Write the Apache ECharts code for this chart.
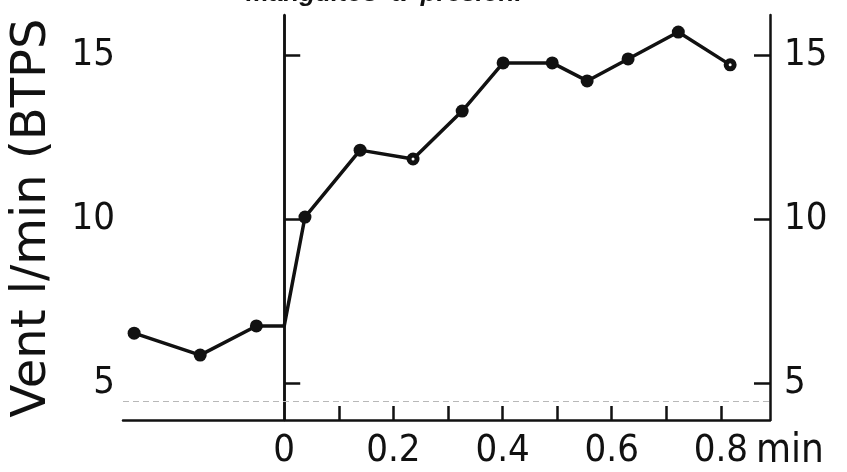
<!DOCTYPE html>
<html>
<head>
<meta charset="utf-8">
<script src="https://cdn.jsdelivr.net/npm/echarts@6/dist/echarts.min.js"></script>
<style>
  html, body { margin: 0; padding: 0; background: #ffffff; }
  #chart { width: 847px; height: 472px; }
</style>
</head>
<body>
<div id="chart"></div>
<script>
// Ventilation (l/min BTPS) against time (min); cuff inflation at t = 0
const timeMin = [-0.275, -0.154, -0.051, 0.0, 0.038, 0.139, 0.236, 0.326, 0.401, 0.491, 0.555, 0.630, 0.722, 0.817];
const ventLmin = [6.52, 5.85, 6.74, 6.74, 10.06, 12.10, 11.83, 13.29, 14.76, 14.76, 14.21, 14.88, 15.70, 14.70];
// index of the unmarked corner where the trace meets the t = 0 line
const cornerIndex = 3;
// samples drawn with an open centre
const openIndices = [6, 13];

const yTicks = [5, 10, 15];
const xTickValues = [0.1, 0.2, 0.3, 0.4, 0.5, 0.6, 0.7, 0.8];
const xLabelValues = [0, 0.2, 0.4, 0.6, 0.8];

const caption = 'manguitos  a  presión.';
const yTitle = 'Vent l/min (BTPS';
const xUnit = 'min';

const INK = '#111111';
const NUM_FONT = '"DejaVu Sans Condensed", sans-serif';

const points = timeMin.map((t, i) => {
  const item = { value: [t, ventLmin[i]] };
  if (i === cornerIndex) item.symbol = 'none';
  if (openIndices.includes(i)) {
    item.symbolSize = 8;
    item.itemStyle = { color: '#ffffff', borderColor: INK, borderWidth: 5 };
  }
  return item;
});

const chart = echarts.init(document.getElementById('chart'), null, { renderer: 'canvas' });

const yAxisBase = {
  type: 'value',
  min: 3.872,
  max: 16.22,
  splitLine: { show: false },
  axisLine: { show: true, lineStyle: { color: INK, width: 2.5 } },
  axisTick: { show: true, inside: true, length: 16, customValues: yTicks, lineStyle: { color: INK, width: 2.5 } },
  axisLabel: { customValues: yTicks, color: INK, fontFamily: NUM_FONT, fontSize: 38 }
};

chart.setOption({
  animation: false,
  backgroundColor: '#ffffff',
  grid: { left: 123, right: 77, top: 15, bottom: 52, containLabel: false },
  xAxis: {
    type: 'value',
    min: -0.2954,
    max: 0.890,
    splitLine: { show: false },
    axisLine: { show: true, onZero: false, lineStyle: { color: INK, width: 2.5 } },
    axisTick: { show: true, inside: true, length: 14, customValues: xTickValues, lineStyle: { color: INK, width: 2.5 } },
    axisLabel: {
      customValues: xLabelValues,
      color: INK, fontFamily: NUM_FONT, fontSize: 38, margin: 12,
      formatter: v => (v === 0 ? '0' : v.toFixed(1))
    }
  },
  yAxis: [
    Object.assign({}, yAxisBase, { position: 'left', axisLabel: Object.assign({}, yAxisBase.axisLabel, { margin: 8 }) }),
    Object.assign({}, yAxisBase, { position: 'right', axisLabel: Object.assign({}, yAxisBase.axisLabel, { margin: 14 }) })
  ],
  series: [{
    type: 'line',
    data: points,
    symbol: 'circle',
    symbolSize: 13,
    showSymbol: true,
    lineStyle: { color: INK, width: 3.5 },
    itemStyle: { color: INK },
    markLine: {
      silent: true,
      symbol: 'none',
      label: { show: false },
      data: [
        { xAxis: 0, lineStyle: { color: INK, width: 2.5, type: 'solid' } },
        { yAxis: 4.45, lineStyle: { color: '#b8b8b8', width: 1.2, type: [6, 4] } }
      ]
    }
  }],
  graphic: [
    {
      type: 'text', left: 246, top: -19,
      style: { text: caption, fontFamily: '"Liberation Sans", Arial, sans-serif', fontStyle: 'italic', fontWeight: 'bold', fontSize: 26, fill: INK }
    },
    {
      type: 'text', x: 33, y: 218, rotation: Math.PI / 2,
      style: { text: yTitle, fontFamily: '"DejaVu Sans", sans-serif', fontSize: 48, fill: INK, align: 'center', verticalAlign: 'middle' }
    },
    {
      type: 'text', x: 756, y: 452,
      style: { text: xUnit, fontFamily: NUM_FONT, fontSize: 40, fill: INK, align: 'left', verticalAlign: 'middle' }
    }
  ]
});
</script>
</body>
</html>
